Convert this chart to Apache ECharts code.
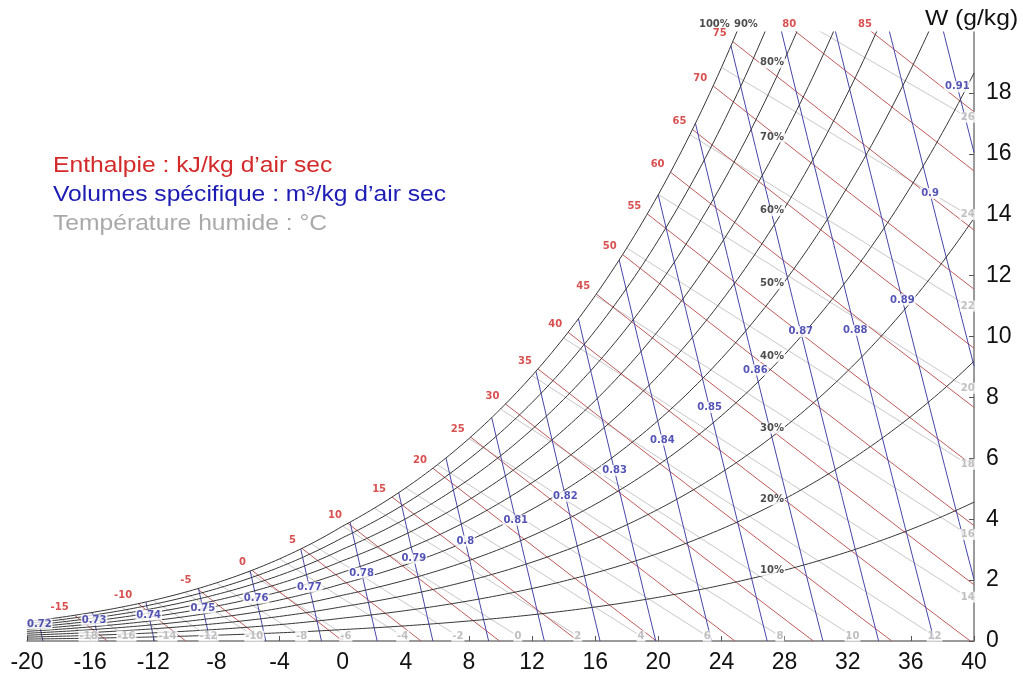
<!DOCTYPE html>
<html>
<head>
<meta charset="utf-8">
<script src="https://cdn.jsdelivr.net/npm/echarts@6/dist/echarts.min.js"></script>
<style>
  html, body { margin: 0; padding: 0; background: #ffffff; }
  #chart { width: 1023px; height: 680px; }
</style>
</head>
<body>
<div id="chart"></div>
<script>
// Relative humidity curves (%)
const rhLevels = [10, 20, 30, 40, 50, 60, 70, 80, 90, 100];
// Enthalpy lines (kJ/kg of dry air)
const enthalpyLevels = [-15, -10, -5, 0, 5, 10, 15, 20, 25, 30, 35, 40, 45, 50, 55, 60, 65, 70, 75, 80, 85];
// Specific volume lines (m3/kg of dry air)
const volumeLevels = [0.72, 0.73, 0.74, 0.75, 0.76, 0.77, 0.78, 0.79, 0.80, 0.81,
                      0.82, 0.83, 0.84, 0.85, 0.86, 0.87, 0.88, 0.89, 0.90, 0.91];
const volumeNames = ['0.72', '0.73', '0.74', '0.75', '0.76', '0.77', '0.78', '0.79', '0.8', '0.81',
                     '0.82', '0.83', '0.84', '0.85', '0.86', '0.87', '0.88', '0.89', '0.9', '0.91'];
// Humidity ratio (g/kg) at which each specific-volume tag sits on its line
const volumeTagAtW = [0.56, 0.69, 0.85, 1.08, 1.41, 1.77, 2.23, 2.72, 3.28, 3.97,
                      4.75, 5.6, 6.6, 7.67, 8.9, 10.16, 10.2, 11.2, 14.7, 18.2];
// Wet-bulb lines (degC) and where each one ends (dry bulb degC, W g/kg)
const wetBulbLevels = [-18, -16, -14, -12, -10, -8, -6, -4, -2, 0, 2, 4, 6, 8, 10, 12,
                       14, 16, 18, 20, 22, 24, 26];
const wetBulbEndT = [-16.1, -13.7, -11.1, -8.5, -5.6, -2.6, 0.2, 3.8, 7.3, 11.1, 14.9, 18.9,
                     23.1, 27.7, 32.3, 37.5, 39.6, 39.6, 39.6, 39.6, 39.6, 39.6, 39.6];
const wetBulbEndW = [0.16, 0.16, 0.16, 0.16, 0.16, 0.16, 0.16, 0.16, 0.16, 0.16, 0.16, 0.16,
                     0.16, 0.16, 0.16, 0.16, 1.44, 3.5, 5.8, 8.3, 11.0, 14.0, 17.2];
// Axis ranges
const T_MIN = -20, T_MAX = 40, T_STEP = 4;
const W_MIN = 0, W_MAX = 20, W_STEP = 2;

// ---- psychrometric relations at standard pressure ----
const P_ATM = 101.325; // kPa
function pSat(t) {
  return t >= 0 ? 0.61094 * Math.exp(17.625 * t / (t + 243.04))
                : 0.61115 * Math.exp(22.452 * t / (272.55 + t));
}
function wFromPv(pv) { return 622 * pv / (P_ATM - pv); }
function wSat(t) { return wFromPv(pSat(t)); }
function enthalpy(t, w) { return 1.006 * t + w / 1000 * (2501 + 1.86 * t); }
function volume(t, w) { return 0.287042 * (t + 273.15) * (1 + 1.6078 * w / 1000) / P_ATM; }
function solveUp(f, target, lo, hi) {
  for (let i = 0; i < 80; i++) {
    const mid = (lo + hi) / 2;
    if (f(mid) < target) lo = mid; else hi = mid;
  }
  return (lo + hi) / 2;
}

function rhCurve(phi) {
  const pts = [];
  for (let i = 0; i <= 240; i++) {
    const t = T_MIN + i * 0.25;
    const w = wFromPv(phi / 100 * pSat(t));
    pts.push([t, w]);
    if (w > W_MAX) break;
  }
  return pts;
}
function enthalpyStart(h) { return solveUp(t => enthalpy(t, wSat(t)), h, -40, 60); }
function enthalpyW(h, t) { return (h - 1.006 * t) * 1000 / (2501 + 1.86 * t); }
function enthalpyLine(h) {
  const t0 = enthalpyStart(h);
  const t1 = Math.min(T_MAX, h / 1.006);
  const pts = [];
  for (let k = 0; k <= 12; k++) {
    const t = t0 + (t1 - t0) * k / 12;
    pts.push([t, enthalpyW(h, t)]);
  }
  return pts;
}
function volumeT(v, w) { return v * P_ATM / (0.287042 * (1 + 1.6078 * w / 1000)) - 273.15; }
function volumeW(v, t) { return (v * P_ATM / (0.287042 * (t + 273.15)) - 1) / 1.6078 * 1000; }
function volumeLine(v) {
  const t0 = solveUp(t => volume(t, wSat(t)), v, -40, 60);
  const t1 = Math.min(T_MAX, volumeT(v, 0));
  const pts = [];
  for (let k = 0; k <= 12; k++) {
    const t = t0 + (t1 - t0) * k / 12;
    pts.push([t, volumeW(v, t)]);
  }
  return pts;
}

// ---- colours ----
const C_RH = '#363636', C_H = '#c05a5a', C_V = '#4646aa', C_WB = '#c8c8c8';
const LBL_FONT = '"DejaVu Sans", Verdana, sans-serif';

function lineSeries(name, pts, color, z) {
  return {
    name: name, type: 'line', data: pts, showSymbol: false, symbol: 'none',
    clip: true, silent: true, animation: false, z: z,
    lineStyle: { color: color, width: 1 }
  };
}

const series = [];
wetBulbLevels.forEach((twb, i) => {
  series.push(lineSeries('wb' + twb, [[twb, wSat(twb)], [wetBulbEndT[i], wetBulbEndW[i]]], C_WB, 2));
});
enthalpyLevels.forEach(h => series.push(lineSeries('h' + h, enthalpyLine(h), C_H, 3)));
volumeLevels.forEach(v => series.push(lineSeries('v' + v, volumeLine(v), C_V, 4)));
rhLevels.forEach(p => series.push(lineSeries('rh' + p, rhCurve(p), C_RH, 5)));

// ---- tags ----
function tagSeries(items, color, bg, z) {
  return {
    type: 'scatter', symbolSize: 0, clip: false, silent: true, animation: false, z: z,
    data: items,
    label: {
      show: true, position: 'inside', formatter: '{b}',
      color: color, fontFamily: LBL_FONT, fontWeight: 'bold', fontSize: 10,
      backgroundColor: bg, padding: [1, 1, 0, 1]
    }
  };
}

const wbTags = wetBulbLevels.map((twb, i) => ({
  name: String(twb), value: [wetBulbEndT[i], wetBulbEndW[i]]
}));
const volTags = volumeLevels.map((v, i) => ({
  name: volumeNames[i], value: [volumeT(v, volumeTagAtW[i]), volumeTagAtW[i]]
}));
const rhTags = rhLevels.map(p => {
  if (p <= 80) {
    const t = 27.9;
    return { name: p + '%', value: [t, wFromPv(p / 100 * pSat(t))], label: { offset: [-11, 0] } };
  }
  const t = solveUp(tt => wFromPv(p / 100 * pSat(tt)), W_MAX, -20, 45);
  return { name: p + '%', value: [t, W_MAX], label: { align: 'right', offset: [-6, -8] } };
});
const hTags = enthalpyLevels.map(h => {
  const t0 = enthalpyStart(h);
  if (wSat(t0) <= W_MAX) {
    return { name: String(h), value: [t0, wSat(t0)], label: { align: 'right', offset: [-5, -8] } };
  }
  const t = (h - 2.501 * W_MAX) / (1.006 + 0.00186 * W_MAX);
  return { name: String(h), value: [t, W_MAX], label: { offset: [-7, -8] } };
});

series.push(tagSeries(wbTags, '#b0b0b0', '#ffffff', 10));
series.push(tagSeries(volTags, '#2a2aa6', '#ffffff', 11));
series.push(tagSeries(rhTags, '#1e1e1e', '#ffffff', 12));
series.push(tagSeries(hTags, '#d02424', 'transparent', 13));

const AXIS_FONT = '"Liberation Sans", Arial, sans-serif';
const option = {
  backgroundColor: '#ffffff',
  animation: false,
  grid: { left: 27, right: 49, top: 32, bottom: 39 },
  xAxis: {
    type: 'value', min: T_MIN, max: T_MAX, interval: T_STEP,
    axisLine: { show: true, onZero: false, lineStyle: { color: '#7a7a7a', width: 1.5 } },
    axisTick: { show: true, inside: true, length: 5, lineStyle: { color: '#555' } },
    axisLabel: { color: '#111', fontSize: 23, fontFamily: AXIS_FONT, margin: 10 },
    splitLine: { show: false }
  },
  yAxis: {
    type: 'value', position: 'right', min: W_MIN, max: W_MAX, interval: W_STEP,
    axisLine: { show: true, onZero: false, lineStyle: { color: '#7a7a7a', width: 1.5 } },
    axisTick: { show: true, inside: true, length: 5, lineStyle: { color: '#555' } },
    axisLabel: { color: '#111', fontSize: 23, fontFamily: AXIS_FONT, margin: 12, showMaxLabel: false },
    splitLine: { show: false }
  },
  graphic: [
    { type: 'text', x: 925, y: 19, z: 100, scaleX: 1.12,
      style: { text: 'W (g/kg)', fill: '#111', fontSize: 22, fontFamily: AXIS_FONT, verticalAlign: 'middle' } },
    { type: 'text', x: 53, y: 166, z: 100, scaleX: 1.12,
      style: { text: 'Enthalpie : kJ/kg d\u2019air sec', fill: '#d42a2a', fontSize: 22, fontFamily: AXIS_FONT, verticalAlign: 'middle' } },
    { type: 'text', x: 53, y: 195, z: 100, scaleX: 1.12,
      style: { text: 'Volumes sp\u00e9cifique : m\u00b3/kg d\u2019air sec', fill: '#1c1cb4', fontSize: 22, fontFamily: AXIS_FONT, verticalAlign: 'middle' } },
    { type: 'text', x: 53, y: 224, z: 100, scaleX: 1.12,
      style: { text: 'Temp\u00e9rature humide : \u00b0C', fill: '#a9a9a9', fontSize: 22, fontFamily: AXIS_FONT, verticalAlign: 'middle' } }
  ],
  series: series
};

const chart = echarts.init(document.getElementById('chart'), null, { renderer: 'canvas' });
chart.setOption(option);
</script>
</body>
</html>
